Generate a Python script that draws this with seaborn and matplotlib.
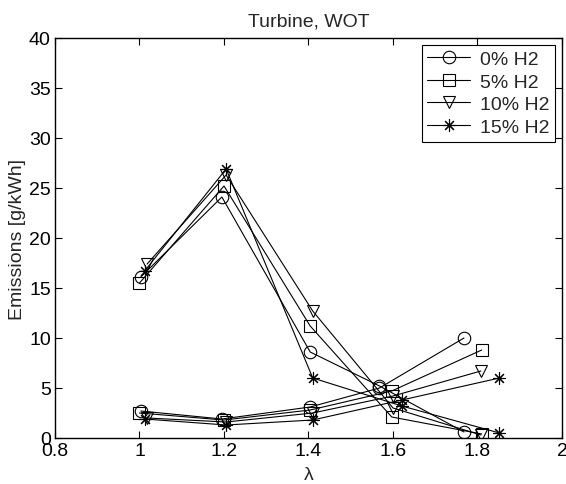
import numpy as np
import pandas as pd
import seaborn as sns
import matplotlib.pyplot as plt

# dados (lambda e emissões em g/kWh)
series = ["0% H2", "5% H2", "10% H2", "15% H2"]
lam_0 = [1.003, 1.195, 1.404, 1.568, 1.768]
lam_5 = [1.0, 1.2, 1.404, 1.597, 1.81]
lam_10 = [1.018, 1.205, 1.41, 1.6, 1.808]
lam_15 = [1.012, 1.205, 1.41, 1.621, 1.852]

upper_0 = [16.1, 24.1, 8.6, 5.2, 0.6]
upper_5 = [15.5, 25.2, 11.2, 2.1, 0.4]
upper_10 = [17.4, 26.3, 12.7, 3.0, 0.3]
upper_15 = [16.7, 26.9, 6.0, 3.2, 0.5]

lower_0 = [2.7, 1.9, 3.1, 5.0, 10.0]
lower_5 = [2.5, 1.8, 2.8, 4.7, 8.8]
lower_10 = [2.0, 1.6, 2.5, 4.2, 6.7]
lower_15 = [1.9, 1.3, 1.8, 3.8, 6.0]

lams = [lam_0, lam_5, lam_10, lam_15]
uppers = [upper_0, upper_5, upper_10, upper_15]
lowers = [lower_0, lower_5, lower_10, lower_15]
markers = ["o", "s", "v", (8, 2, 0)]

rows = []
for s, lam, up, lo in zip(series, lams, uppers, lowers):
    for x, y in zip(lam, up):
        rows.append({"H2": s, "ramo": "sup", "Lambda": x, "Emissoes": y})
    for x, y in zip(lam, lo):
        rows.append({"H2": s, "ramo": "inf", "Lambda": x, "Emissoes": y})
df = pd.DataFrame(rows)

sns.set_style("ticks")
plt.rcParams["font.family"] = ["Liberation Sans", "DejaVu Sans"]

fig = plt.figure(figsize=(5.66, 4.85), dpi=100)
ax = fig.add_axes([55 / 566, 1 - 439 / 485, 507 / 566, 400 / 485])

for s, m in zip(series, markers):
    for ramo in ["sup", "inf"]:
        d = df[(df["H2"] == s) & (df["ramo"] == ramo)]
        sns.lineplot(
            data=d, x="Lambda", y="Emissoes", ax=ax, color="k",
            marker=m, markersize=9, mfc="none", mec="k", mew=0.8,
            linewidth=0.8, estimator=None, sort=False,
            label=s if ramo == "sup" else None, legend=False,
        )

ax.set_xlim(0.8, 2.0)
ax.set_ylim(0, 40)
ax.set_xticks([0.8, 1.0, 1.2, 1.4, 1.6, 1.8, 2.0])
ax.set_xticklabels(["0.8", "1", "1.2", "1.4", "1.6", "1.8", "2"])
ax.set_yticks(range(0, 41, 5))
ax.tick_params(direction="in", top=True, right=True, length=5, width=0.8,
               labelsize=14, pad=3, colors="k")
for sp in ax.spines.values():
    sp.set_linewidth(1.0)
    sp.set_color("k")

ax.set_title("Turbine, WOT", fontsize=14, pad=9)
ax.set_xlabel("λ", fontsize=14, labelpad=5)
ax.set_ylabel("Emissions [g/kWh]", fontsize=14, labelpad=2)

leg = ax.legend(loc="upper right", fontsize=14, frameon=True, fancybox=False,
                edgecolor="k", framealpha=1, handlelength=2.2,
                borderaxespad=0.35, labelspacing=0.25, handletextpad=0.5,
                borderpad=0.3)
leg.get_frame().set_linewidth(0.8)

plt.savefig("out.png", dpi=100)
